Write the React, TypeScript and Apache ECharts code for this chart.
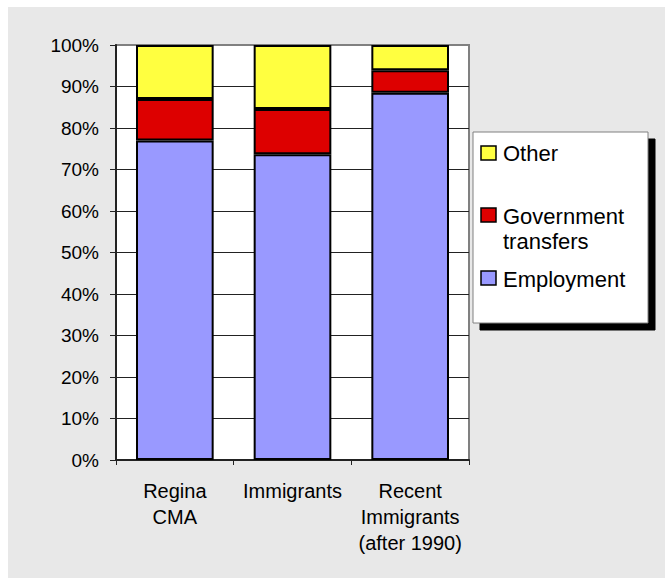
import React, { useEffect, useRef } from "react";
import * as echarts from "echarts";

const categories = ["Regina\nCMA", "Immigrants", "Recent\nImmigrants\n(after 1990)"];
const employment = [77.0, 73.7, 88.5];
const governmentTransfers = [10.0, 10.9, 5.4];
const other = [13.0, 15.4, 6.1];
const seriesNames = ["Employment", "Government transfers", "Other"];
const legendLabels = ["Other", "Government\ntransfers", "Employment"];
const colors = { employment: "#9999ff", gov: "#dd0000", other: "#ffff40" };

const FONT = '"Liberation Sans", Arial, Helvetica, sans-serif';

export default function App() {
  const ref = useRef<HTMLDivElement>(null);
  useEffect(() => {
    if (!ref.current) return;
    const chart = echarts.init(ref.current, undefined, { renderer: "svg" });
    const seriesData = [employment, governmentTransfers, other];
    const seriesColors = [colors.employment, colors.gov, colors.other];
    const legendColors = [colors.other, colors.gov, colors.employment];
    const swatchY = [139, 201, 264];
    const textY = [146, 209, 272];

    const bx = 465, by = 125, bw = 175, bh = 191, off = 7;
    const legendGraphics: any[] = [
      {
        type: "rect",
        silent: true,
        shape: { x: bx + off, y: by + off, width: bw, height: bh },
        style: { fill: "#000000", stroke: "#000000", lineWidth: 1 },
        z: 100,
      },
      {
        type: "rect",
        silent: true,
        shape: { x: bx, y: by, width: bw, height: bh },
        style: { fill: "#ffffff", stroke: "#808080", lineWidth: 1 },
        z: 101,
      },
    ];
    legendLabels.forEach((lab, i) => {
      legendGraphics.push({
        type: "rect",
        silent: true,
        shape: { x: 473, y: swatchY[i], width: 15, height: 14 },
        style: { fill: legendColors[i], stroke: "#000", lineWidth: 1.5 },
        z: 102,
      });
      legendGraphics.push({
        type: "text",
        silent: true,
        x: 495,
        y: i === 1 ? textY[i] - 12.75 : textY[i],
        style: {
          text: lab,
          fill: "#000",
          fontSize: 22,
          fontFamily: FONT,
          lineHeight: 25.5,
          verticalAlign: i === 1 ? "top" : "middle",
          align: "left",
        },
        z: 102,
      });
    });

    chart.setOption({
      animation: false,
      backgroundColor: "#e8e8e8",
      textStyle: { fontFamily: FONT },
      grid: {
        left: 108,
        top: 38,
        width: 353,
        height: 415,
        show: true,
        backgroundColor: "#fff",
        borderColor: "#808080",
        borderWidth: 2,
        containLabel: false,
      },
      xAxis: {
        type: "category",
        data: categories,
        axisLine: { show: true, lineStyle: { color: "#222", width: 2 } },
        axisTick: { show: true, interval: 0, length: 5, alignWithLabel: false, lineStyle: { color: "#222", width: 1 } },
        axisLabel: { interval: 0, fontSize: 20, lineHeight: 26, color: "#000", margin: 18, fontFamily: FONT },
        splitLine: { show: false },
      },
      yAxis: {
        type: "value",
        min: 0,
        max: 100,
        interval: 10,
        axisLine: { show: true, lineStyle: { color: "#222", width: 2 } },
        axisTick: { show: true, length: 6, lineStyle: { color: "#222", width: 1 } },
        axisLabel: { formatter: "{value}%", fontSize: 19, color: "#000", margin: 17, fontFamily: FONT },
        splitLine: { show: true, showMaxLine: false, showMinLine: false, lineStyle: { color: "#222", width: 1 } },
      },
      legend: { show: false },
      series: seriesNames.map((name, i) => ({
        name,
        type: "bar",
        stack: "total",
        data: seriesData[i],
        barWidth: "66%",
        itemStyle: { color: seriesColors[i], borderColor: "#000", borderWidth: 2 },
      })),
      graphic: { elements: legendGraphics },
    });
    return () => chart.dispose();
  }, []);
  return (
    <div
      ref={ref}
      style={{ position: "absolute", left: 8, top: 7, width: 657, height: 571 }}
    />
  );
}
